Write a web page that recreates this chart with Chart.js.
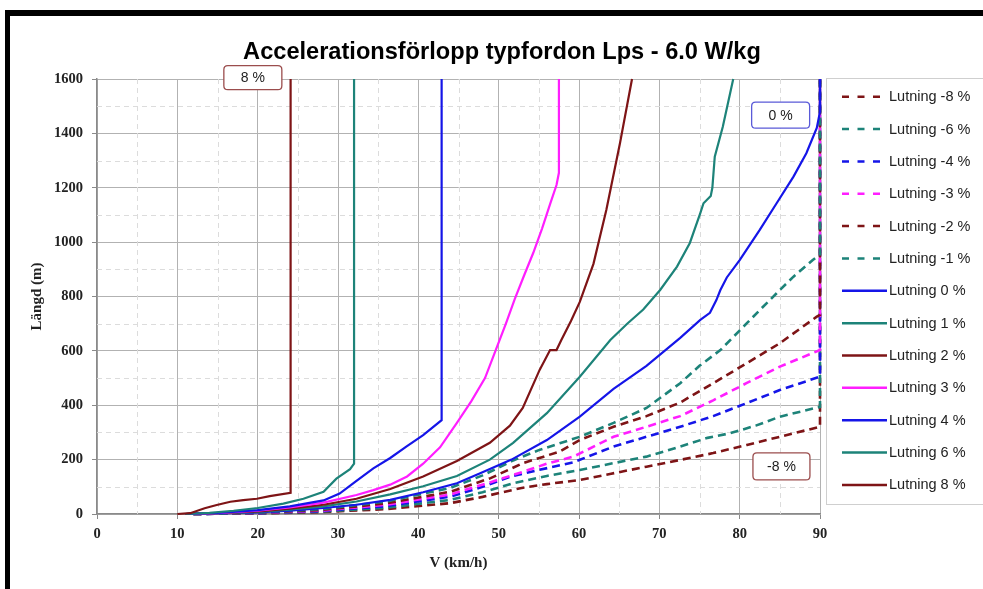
<!DOCTYPE html>
<html>
<head>
<meta charset="utf-8">
<title>Accelerationsförlopp typfordon Lps - 6.0 W/kg</title>
<script src="https://cdn.jsdelivr.net/npm/chart.js@4.4.1/dist/chart.umd.min.js"></script>
<style>
  html, body { margin: 0; padding: 0; background: #fff; }
  #wrap { position: relative; width: 983px; height: 589px; overflow: hidden; }
  #wrap canvas { position: absolute; left: 0; top: 0; }
  #frame {
    position: absolute; left: 5px; top: 10px; width: 1000px; height: 600px;
    border-top: 6px solid #000; border-left: 5px solid #000;
    box-sizing: border-box; pointer-events: none;
  }
</style>
</head>
<body>
<div id="wrap">
  <canvas id="chart" width="983" height="589"></canvas>
  <div id="frame"></div>
</div>
<script>
// Heading and axis texts
const chartTitle = 'Accelerationsförlopp typfordon Lps - 6.0 W/kg';
const xTitle = 'V (km/h)';
const yTitle = 'Längd (m)';

// Series names, in legend order
const seriesLabels = [
  'Lutning -8 %', 'Lutning -6 %', 'Lutning -4 %', 'Lutning -3 %', 'Lutning -2 %', 'Lutning -1 %',
  'Lutning 0 %', 'Lutning 1 %', 'Lutning 2 %', 'Lutning 3 %', 'Lutning 4 %', 'Lutning 6 %', 'Lutning 8 %'
];

// Each series: [speed km/h, distance m]
const lutningM8 = [[12,0],[20,2],[28,7],[36,18],[44,40],[48,63],[52.7,95],[56,110],[60.1,125],[64,148],[68.4,174],[72.6,199],[76.7,224],[80.9,254],[85,284],[90,321],[90,1600]];
const lutningM6 = [[12,0],[20,3],[28,9],[36,23],[44,52],[48,80],[51.8,113],[56,140],[60.1,162],[64.3,187],[68.4,211],[72.6,248],[76,280],[78.8,297],[82,325],[85,358],[90,394],[90,1600]];
const lutningM4 = [[12,0],[20,3],[28,11],[36,29],[44,64],[48,100],[51.4,137],[55,162],[59.3,190],[64.3,248],[68.4,284],[72.6,321],[76.7,360],[80.9,408],[85,456],[90,505],[90,1600]];
const lutningM3 = [[12,0],[20,4],[28,13],[36,34],[44,72],[49,117],[53,155],[56,185],[59.3,211],[64.3,284],[68.4,321],[72.6,360],[76.7,418],[80.9,482],[85,542],[90,603],[90,1600]];
const lutningM2 = [[12,0],[20,4],[28,15],[36,39],[44,82],[49,132],[53,187],[55.5,210],[57.6,230],[60.1,272],[64.3,321],[68.4,360],[72.6,410],[76.7,481],[80.9,555],[85,628],[89.6,726],[90,732],[90,1600]];
const lutningM1 = [[12,0],[20,5],[28,18],[36,46],[44,96],[48,142],[51.8,197],[55,235],[57.6,260],[60.1,284],[64.3,335],[68.4,390],[72.6,481],[75,545],[77.6,603],[80.9,702],[82.5,750],[84.6,812],[86.7,873],[89.1,934],[90,955],[90,1600]];
const lutning0 = [[11,0],[15,2],[20,6],[24,12],[28.2,22],[32.3,34],[36.5,52],[40.6,80],[44.8,113],[47.7,150],[51.6,200],[56,272],[60.1,358],[64.3,460],[68.4,545],[72.6,648],[75.1,714],[76.3,740],[77.1,787],[77.6,824],[78.4,870],[80,934],[82.5,1045],[84.6,1143],[86.7,1241],[88.3,1327],[89.6,1420],[90,1480],[90,1600]];
const lutning1 = [[11,0],[15,2],[20,8],[24,16],[28.2,28],[32.3,46],[36.5,72],[40.6,102],[44.8,140],[48.9,200],[51.8,262],[56,371],[60.1,505],[63.9,640],[66,700],[68,752],[70.1,824],[72.2,910],[73.8,997],[75.1,1107],[75.5,1143],[76.4,1170],[76.6,1200],[76.9,1314],[77.9,1424],[79.2,1600]];
const lutning2 = [[11,0],[15,3],[20,10],[24,20],[28.2,34],[32.3,56],[36.5,92],[40.6,138],[44.8,195],[48.9,262],[51.4,325],[53,390],[55.1,530],[56.4,603],[57.2,603],[57.8,640],[59,710],[60.1,780],[61.8,920],[63.4,1118],[65.1,1364],[66.6,1600]];
const lutning3 = [[11,0],[15,3],[20,12],[24,24],[28.2,42],[32.3,70],[34.4,88],[36.5,108],[38.6,138],[40.6,185],[42.7,245],[44.8,335],[46.6,415],[48.3,500],[49.6,600],[50.9,700],[52,790],[53.2,880],[54.3,960],[55.4,1050],[56.4,1140],[57.2,1210],[57.5,1255],[57.5,1600]];
const lutning4 = [[11,0],[15,4],[20,14],[24,28],[28.2,50],[30.2,75],[32.3,122],[34.4,168],[36.5,206],[38.5,248],[40.6,290],[42.9,345],[42.9,1600]];
const lutning6 = [[11,0],[14,4],[17,12],[20,22],[23.2,38],[25.7,56],[28.2,82],[29.8,130],[31.5,165],[32,185],[32,1600]];
const lutning8 = [[10,0],[11.6,3],[13.4,21],[14.9,33],[16.6,45],[18.2,51],[19.9,56],[21.5,66],[24.1,78],[24.1,1600]];

const seriesPoints = [lutningM8, lutningM6, lutningM4, lutningM3, lutningM2, lutningM1,
                      lutning0, lutning1, lutning2, lutning3, lutning4, lutning6, lutning8];

// Axis ranges
const speedRange = [0, 90];
const distanceRange = [0, 1600];

// Colours and line styles
const MAROON = '#7e1416';
const TEAL = '#1d8379';
const BLUE = '#1515e8';
const MAGENTA = '#ff1eff';
const lineStyles = [
  { color: MAROON, dashed: true }, { color: TEAL, dashed: true }, { color: BLUE, dashed: true },
  { color: MAGENTA, dashed: true }, { color: MAROON, dashed: true }, { color: TEAL, dashed: true },
  { color: BLUE, dashed: false }, { color: TEAL, dashed: false }, { color: MAROON, dashed: false },
  { color: MAGENTA, dashed: false }, { color: BLUE, dashed: false }, { color: TEAL, dashed: false },
  { color: MAROON, dashed: false }
];

// Callout boxes placed in data units
const callouts = [
  { text: '8 %',  v: 19.4, m: 1605, w: 58, h: 24, border: '#9b4d4d' },
  { text: '0 %',  v: 85.1, m: 1467, w: 58, h: 26, border: '#5a5ad8' },
  { text: '-8 %', v: 85.2, m: 175,  w: 57, h: 27, border: '#9b4d4d' }
];

const SANS = '"Liberation Sans", Arial, sans-serif';
const SERIF = '"Liberation Serif", "Times New Roman", serif';
const MAJOR_GRID = '#b2b2b2';
const MINOR_GRID = '#dcdcdc';

const datasets = seriesPoints.map((pts, i) => ({
  label: seriesLabels[i],
  data: pts.map(p => ({ x: p[0], y: p[1] })),
  showLine: true,
  borderColor: lineStyles[i].color,
  backgroundColor: lineStyles[i].color,
  borderWidth: lineStyles[i].dashed ? 2.6 : 2.2,
  borderDash: lineStyles[i].dashed ? [8, 5] : [],
  pointRadius: 0,
  pointHoverRadius: 0,
  tension: 0,
  order: seriesPoints.length - i,
  clip: 4
}));

function roundRectPath(ctx, x, y, w, h, r) {
  ctx.beginPath();
  ctx.moveTo(x + r, y);
  ctx.lineTo(x + w - r, y);
  ctx.quadraticCurveTo(x + w, y, x + w, y + r);
  ctx.lineTo(x + w, y + h - r);
  ctx.quadraticCurveTo(x + w, y + h, x + w - r, y + h);
  ctx.lineTo(x + r, y + h);
  ctx.quadraticCurveTo(x, y + h, x, y + h - r);
  ctx.lineTo(x, y + r);
  ctx.quadraticCurveTo(x, y, x + r, y);
  ctx.closePath();
}

// Dashed minor grid lines halfway between the major ones
const minorGrid = {
  id: 'minorGrid',
  beforeDatasetsDraw(chart) {
    const ctx = chart.ctx;
    const { left, right, top, bottom } = chart.chartArea;
    const xs = chart.scales.x, ys = chart.scales.y;
    ctx.save();
    ctx.strokeStyle = MINOR_GRID;
    ctx.lineWidth = 1;
    ctx.setLineDash([5, 4]);
    xs.ticks.forEach(t => {
      if (t.value % 10 === 0) return;
      const px = Math.round(xs.getPixelForValue(t.value)) + 0.5;
      ctx.beginPath(); ctx.moveTo(px, top); ctx.lineTo(px, bottom); ctx.stroke();
    });
    ys.ticks.forEach(t => {
      if (t.value % 200 === 0) return;
      const py = Math.round(ys.getPixelForValue(t.value)) + 0.5;
      ctx.beginPath(); ctx.moveTo(left, py); ctx.lineTo(right, py); ctx.stroke();
    });
    ctx.restore();
  }
};

const decorations = {
  id: 'decorations',
  afterDraw(chart) {
    const ctx = chart.ctx;
    const xs = chart.scales.x, ys = chart.scales.y;
    ctx.save();

    // heading
    ctx.font = 'bold 23.6px ' + SANS;
    ctx.fillStyle = '#000';
    ctx.textAlign = 'center';
    ctx.textBaseline = 'middle';
    ctx.fillText(chartTitle, 502, 52);

    // callout boxes
    callouts.forEach(c => {
      const cx = xs.getPixelForValue(c.v);
      const cy = ys.getPixelForValue(c.m);
      roundRectPath(ctx, cx - c.w / 2, cy - c.h / 2, c.w, c.h, 4);
      ctx.fillStyle = '#fff';
      ctx.fill();
      ctx.lineWidth = 1.3;
      ctx.strokeStyle = c.border;
      ctx.stroke();
      ctx.fillStyle = '#222';
      ctx.font = '14px ' + SANS;
      ctx.fillText(c.text, cx, cy + 0.5);
    });

    // legend
    const lx = 826, ly = 78, lw = 170, lh = 426;
    ctx.fillStyle = '#fff';
    ctx.fillRect(lx, ly, lw, lh);
    ctx.strokeStyle = '#cfcfcf';
    ctx.lineWidth = 1;
    ctx.strokeRect(lx + 0.5, ly + 0.5, lw, lh);
    ctx.textAlign = 'left';
    ctx.font = '14.5px ' + SANS;
    chart.data.datasets.forEach((ds, i) => {
      const y = 96.7 + i * 32.35;
      const dashed = ds.borderDash && ds.borderDash.length;
      ctx.strokeStyle = ds.borderColor;
      ctx.lineWidth = 2.5;
      ctx.setLineDash(dashed ? [7, 8.5] : []);
      ctx.beginPath();
      ctx.moveTo(842, y);
      ctx.lineTo(dashed ? 880 : 887, y);
      ctx.stroke();
      ctx.setLineDash([]);
      ctx.fillStyle = '#222';
      ctx.fillText(ds.label, 889, y + 0.5);
    });
    ctx.restore();
  }
};

new Chart(document.getElementById('chart'), {
  type: 'scatter',
  data: { datasets },
  plugins: [minorGrid, decorations],
  options: {
    responsive: false,
    animation: false,
    devicePixelRatio: 1,
    layout: { padding: { top: 79, right: 163, bottom: 0, left: 0 } },
    plugins: {
      legend: { display: false },
      title: { display: false },
      tooltip: { enabled: false }
    },
    scales: {
      x: {
        type: 'linear',
        min: speedRange[0],
        max: speedRange[1],
        afterFit(scale) { scale.height = 75; },
        border: { color: '#8a8a8a', width: 1.5 },
        grid: {
          color: ctx => (ctx.tick && ctx.tick.value % 10 === 0) ? MAJOR_GRID : 'rgba(0,0,0,0)',
          tickColor: ctx => (ctx.tick && ctx.tick.value % 10 === 0) ? '#8a8a8a' : 'rgba(0,0,0,0)',
          tickLength: 5,
          lineWidth: 1
        },
        ticks: {
          stepSize: 5,
          autoSkip: false,
          maxRotation: 0,
          padding: 7,
          color: '#222',
          font: { family: SERIF, size: 14.5, weight: 'bold' },
          callback: v => (v % 10 === 0 ? String(v) : '')
        },
        title: {
          display: true,
          text: xTitle,
          color: '#222',
          font: { family: SERIF, size: 15, weight: 'bold' },
          padding: { top: 0, bottom: 17 }
        }
      },
      y: {
        type: 'linear',
        min: distanceRange[0],
        max: distanceRange[1],
        afterFit(scale) { scale.width = 97; },
        border: { color: '#8a8a8a', width: 1.5 },
        grid: {
          color: ctx => (ctx.tick && ctx.tick.value % 200 === 0) ? MAJOR_GRID : 'rgba(0,0,0,0)',
          tickColor: ctx => (ctx.tick && ctx.tick.value % 200 === 0) ? '#8a8a8a' : 'rgba(0,0,0,0)',
          tickLength: 5,
          lineWidth: 1
        },
        ticks: {
          stepSize: 100,
          autoSkip: false,
          padding: 9,
          color: '#222',
          font: { family: SERIF, size: 14.5, weight: 'bold' },
          callback: v => (v % 200 === 0 ? String(v) : '')
        },
        title: {
          display: true,
          text: yTitle,
          color: '#222',
          font: { family: SERIF, size: 15, weight: 'bold' },
          padding: { top: 28, bottom: 0 }
        }
      }
    }
  }
});
</script>
</body>
</html>
